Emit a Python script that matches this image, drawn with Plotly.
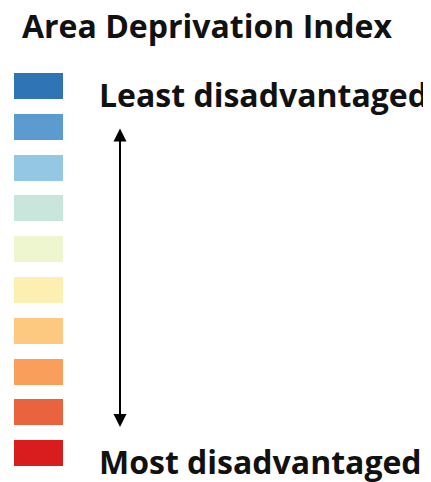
import plotly.graph_objects as go

# ---- data ----
levels = list(range(1, 11))  # 1 = least disadvantaged, 10 = most disadvantaged
colors = ["#2f75b6", "#5b9bd0", "#93c7e4", "#c9e6dd", "#edf6cf",
          "#fdeeb1", "#fdc880", "#f99f5b", "#e9633f", "#d91c1e"]
title_text = "Area Deprivation Index"
top_label = "Least disadvantaged"
bottom_label = "Most disadvantaged"

# page is 431x482, browser body has an 8px margin
OFF = 8
W, H = 431 - OFF, 482 - OFF
FONT = "Open Sans"
FS = 32

fig = go.Figure()
fig.add_trace(go.Bar(
    x=[1] * len(levels), y=levels, orientation="h",
    marker=dict(color=colors, line=dict(width=0)),
    width=0.637, hoverinfo="skip", showlegend=False,
))

# arrow between extreme levels
fig.add_annotation(
    x=2.163, y=9.358, ax=2.163, ay=2.005,
    xref="x", yref="y", axref="x", ayref="y",
    text="", showarrow=True, arrowside="end+start",
    arrowhead=2, startarrowhead=2, arrowsize=1.3, startarrowsize=1.3,
    arrowwidth=2, arrowcolor="#000000", standoff=0, startstandoff=0,
)

def px_x(p):
    return (p - OFF) / W

def px_y(p):
    return 1 - (p - OFF) / H

fig.add_annotation(x=px_x(20), y=px_y(25), xref="paper", yref="paper",
                   xanchor="left", yanchor="middle", showarrow=False,
                   text=f"<b>{title_text}</b>",
                   font=dict(family=FONT, size=FS, color="#111111"))
fig.add_annotation(x=px_x(97), y=px_y(94), xref="paper", yref="paper",
                   xanchor="left", yanchor="middle", showarrow=False,
                   text=f"<b>{top_label}</b>",
                   font=dict(family=FONT, size=FS, color="#111111"))
fig.add_annotation(x=px_x(97), y=px_y(461), xref="paper", yref="paper",
                   xanchor="left", yanchor="middle", showarrow=False,
                   text=f"<b>{bottom_label}</b>",
                   font=dict(family=FONT, size=FS, color="#111111"))

fig.update_layout(
    width=W, height=H, margin=dict(l=0, r=0, t=0, b=0),
    paper_bgcolor="white", plot_bgcolor="white",
    xaxis=dict(range=[-(14 - OFF) / 49, (W - (14 - OFF)) / 49], visible=False, fixedrange=True),
    yaxis=dict(range=[1 + (H - (86 - OFF)) / 40.8, 1 - (86 - OFF) / 40.8],
               visible=False, fixedrange=True),
    bargap=0,
)

fig.write_html("out.html")
